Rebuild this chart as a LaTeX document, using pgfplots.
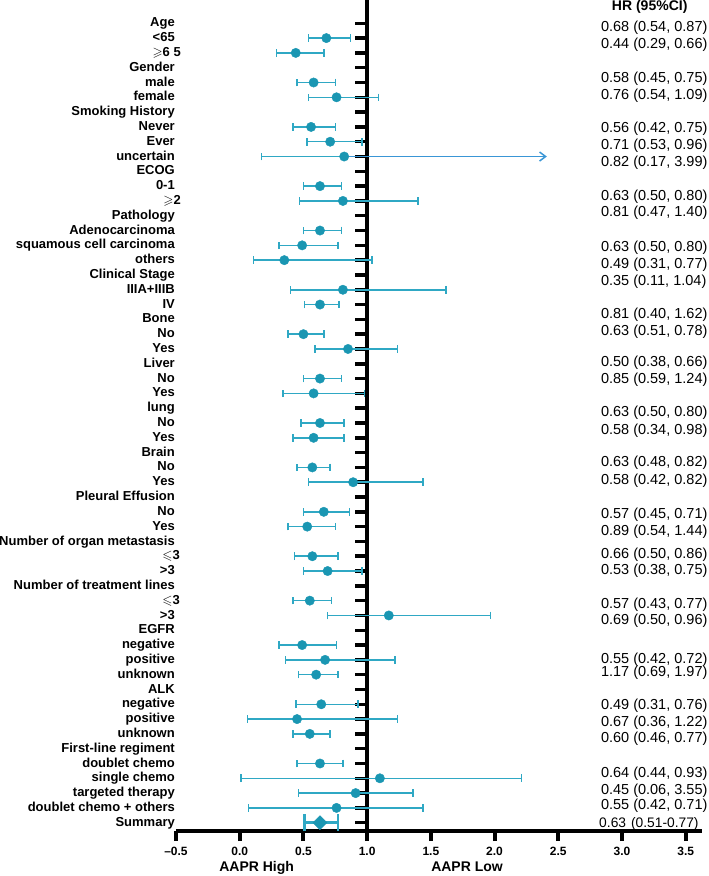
\documentclass[border=0pt]{standalone}
\usepackage{pgfplots}
\pgfplotsset{compat=1.18}
\usepackage{pgfplotstable}
\usepackage{amssymb}
\usepackage{fontspec}
\setmainfont{Liberation Sans}
\usetikzlibrary{arrows.meta}
\definecolor{mk}{HTML}{1A96B2}
\definecolor{eb}{HTML}{2FA8C4}
\definecolor{arr}{HTML}{3A96D6}

\pgfplotstableread{
y hr lo hi
-1 0.68 0.54 0.87
-2 0.44 0.29 0.66
-4 0.58 0.45 0.75
-5 0.76 0.54 1.09
-7 0.56 0.42 0.75
-8 0.71 0.53 0.96
-9 0.82 0.17 0.82
-11 0.63 0.50 0.80
-12 0.81 0.47 1.40
-14 0.63 0.50 0.80
-15 0.49 0.31 0.77
-16 0.35 0.11 1.04
-18 0.81 0.40 1.62
-19 0.63 0.51 0.78
-21 0.50 0.38 0.66
-22 0.85 0.59 1.24
-24 0.63 0.50 0.80
-25 0.58 0.34 0.98
-27 0.63 0.48 0.82
-28 0.58 0.42 0.82
-30 0.57 0.45 0.71
-31 0.89 0.54 1.44
-33 0.66 0.50 0.86
-34 0.53 0.38 0.75
-36 0.57 0.43 0.77
-37 0.69 0.50 0.96
-39 0.55 0.42 0.72
-40 1.17 0.69 1.97
-42 0.49 0.31 0.76
-43 0.67 0.36 1.22
-44 0.60 0.46 0.77
-46 0.64 0.44 0.93
-47 0.45 0.06 1.24
-48 0.55 0.42 0.71
-50 0.63 0.45 0.81
-51 1.10 0.01 2.21
-52 0.91 0.46 1.36
-53 0.76 0.07 1.44
}\data

\tikzset{
  num/.style={anchor=west, inner sep=0pt, text height=0.716em, text depth=0pt, font=\fontsize{14.5}{14.5}\selectfont},
  bl/.style={inner sep=0pt, text height=0.716em, text depth=0pt, font=\bfseries\fontsize{14}{14}\selectfont},
}

\begin{document}
\begin{tikzpicture}
\useasboundingbox (-176pt,-45pt) rectangle (533pt,831pt);
\begin{axis}[
  scale only axis, width=526pt, height=831pt,
  xmin=-0.5, xmax=3.628, ymin=-54.56, ymax=1.574,
  axis x line=bottom, axis y line=left,
  x axis line style={line width=4pt, -},
  y axis line style={draw=none},
  xtick={-0.5,0,0.5,1,1.5,2,2.5,3,3.5},
  xticklabels={--0.5,0.0,0.5,1.0,1.5,2.0,2.5,3.0,3.5},
  xtick style={line width=4pt, black},
  tick align=outside, major tick length=10pt,
  ytick style={draw=none},
  ytick={0,-1,...,-54},
  yticklabels={Age,{<65},{$\geqslant$6 5\hspace*{-6pt}},Gender,male,female,Smoking History,Never,Ever,uncertain,ECOG,0-1,{$\geqslant$2\hspace*{-6pt}},Pathology,Adenocarcinoma,squamous cell carcinoma,others,Clinical Stage,IIIA+IIIB,IV,Bone,No,Yes,Liver,No,Yes,lung,No,Yes,Brain,No,Yes,Pleural Effusion,No,Yes,Number of organ metastasis,{$\leqslant$3\hspace*{-5pt}},{>3},Number of treatment lines,{$\leqslant$3\hspace*{-5pt}},{>3},EGFR,negative,positive,unknown,ALK,negative,positive,unknown,First-line regiment,doublet chemo,single chemo,targeted therapy,doublet chemo + others,Summary},
  xticklabel style={font=\bfseries\fontsize{12}{12}\selectfont, inner sep=0pt, anchor=north, text height=0.716em, text depth=0pt, yshift=-7pt},
  yticklabel style={font=\bfseries\fontsize{13}{13}\selectfont, inner sep=0pt, anchor=east, text height=0.716em, text depth=0pt, xshift=9pt},
  clip=false,
]
\addplot[black, line width=4pt] coordinates {(1,-54.56) (1,1.574)};
\pgfplotsinvokeforeach{0,...,54}{\draw[black, line width=3.5pt] (axis cs:1,-#1) -- ++(-12pt,0pt);}

\addplot[arr, line width=1.5pt, -{Straight Barb[length=6pt, width=9pt]}] coordinates {(0.82,-9) (2.41,-9)};

\addplot[only marks, mark=*, mark size=4.7pt, color=mk,
  error bars/.cd, x dir=both, x explicit, error mark=|,
  error bar style={eb, line width=1.5pt},
  error mark options={eb, line width=1.5pt, mark size=3.8pt}]
  table[x=hr, y=y, x error plus expr=\thisrow{hi}-\thisrow{hr}, x error minus expr=\thisrow{hr}-\thisrow{lo}] {\data};

\addplot[only marks, mark=square*, mark size=4.95pt, mark options={rotate=45}, color=mk,
  error bars/.cd, x dir=both, x explicit, error mark=|,
  error bar style={eb, line width=2.5pt},
  error mark options={eb, line width=2.5pt, mark size=8.5pt}]
  coordinates {(0.63,-54) += (0.14,0) -= (0.12,0)};

\node[bl, anchor=west] at (axis cs:2.92,1.09) {HR (95\%CI)};
\node[num] at (axis cs:2.834,-0.34) {0.68 (0.54, 0.87)};
\node[num] at (axis cs:2.834,-1.47) {0.44 (0.29, 0.66)};
\node[num] at (axis cs:2.834,-3.78) {0.58 (0.45, 0.75)};
\node[num] at (axis cs:2.834,-4.91) {0.76 (0.54, 1.09)};
\node[num] at (axis cs:2.834,-7.16) {0.56 (0.42, 0.75)};
\node[num] at (axis cs:2.834,-8.29) {0.71 (0.53, 0.96)};
\node[num] at (axis cs:2.834,-9.46) {0.82 (0.17, 3.99)};
\node[num] at (axis cs:2.834,-11.72) {0.63 (0.50, 0.80)};
\node[num] at (axis cs:2.834,-12.84) {0.81 (0.47, 1.40)};
\node[num] at (axis cs:2.834,-15.14) {0.63 (0.50, 0.80)};
\node[num] at (axis cs:2.834,-16.31) {0.49 (0.31, 0.77)};
\node[num] at (axis cs:2.834,-17.46) {0.35 (0.11, 1.04)};
\node[num] at (axis cs:2.834,-19.71) {0.81 (0.40, 1.62)};
\node[num] at (axis cs:2.834,-20.84) {0.63 (0.51, 0.78)};
\node[num] at (axis cs:2.834,-22.97) {0.50 (0.38, 0.66)};
\node[num] at (axis cs:2.834,-24.10) {0.85 (0.59, 1.24)};
\node[num] at (axis cs:2.834,-26.35) {0.63 (0.50, 0.80)};
\node[num] at (axis cs:2.834,-27.53) {0.58 (0.34, 0.98)};
\node[num] at (axis cs:2.834,-29.73) {0.63 (0.48, 0.82)};
\node[num] at (axis cs:2.834,-30.93) {0.58 (0.42, 0.82)};
\node[num] at (axis cs:2.834,-33.22) {0.57 (0.45, 0.71)};
\node[num] at (axis cs:2.834,-34.35) {0.89 (0.54, 1.44)};
\node[num] at (axis cs:2.834,-35.88) {0.66 (0.50, 0.86)};
\node[num] at (axis cs:2.834,-37.01) {0.53 (0.38, 0.75)};
\node[num] at (axis cs:2.834,-39.26) {0.57 (0.43, 0.77)};
\node[num] at (axis cs:2.834,-40.39) {0.69 (0.50, 0.96)};
\node[num] at (axis cs:2.834,-42.97) {0.55 (0.42, 0.72)};
\node[num] at (axis cs:2.834,-43.88) {1.17 (0.69, 1.97)};
\node[num] at (axis cs:2.834,-46.13) {0.49 (0.31, 0.76)};
\node[num] at (axis cs:2.834,-47.26) {0.67 (0.36, 1.22)};
\node[num] at (axis cs:2.834,-48.36) {0.60 (0.46, 0.77)};
\node[num] at (axis cs:2.834,-50.68) {0.64 (0.44, 0.93)};
\node[num] at (axis cs:2.834,-51.84) {0.45 (0.06, 3.55)};
\node[num] at (axis cs:2.834,-52.89) {0.55 (0.42, 0.71)};
\node[num, font=\fontsize{13.8}{13.8}\selectfont] at (axis cs:2.82,-54.05) {0.63\hspace{5pt}(0.51-0.77)};

\node[bl, yshift=-37pt] at (axis cs:0.133,-54.56) {AAPR High};
\node[bl, yshift=-37pt] at (axis cs:1.784,-54.56) {AAPR Low};
\end{axis}
\end{tikzpicture}
\end{document}
